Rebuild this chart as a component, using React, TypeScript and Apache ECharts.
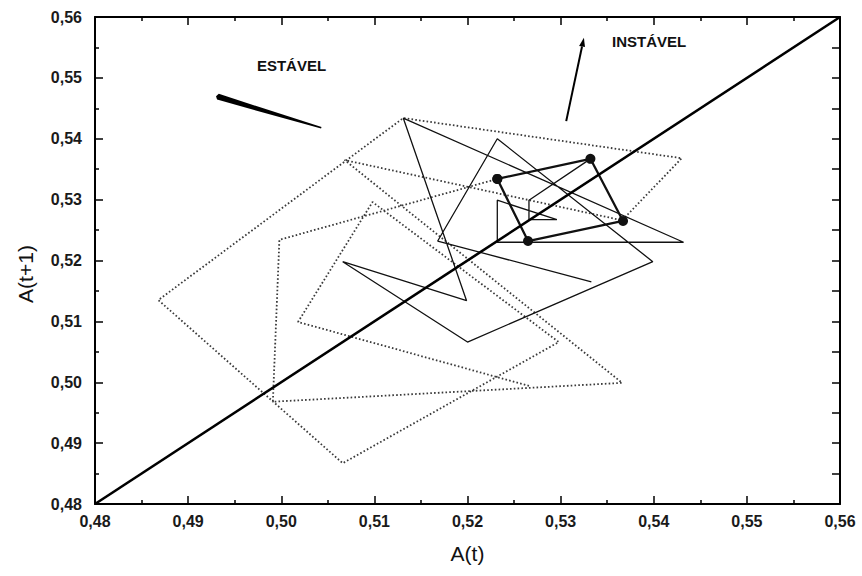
import { useEffect, useRef } from 'react';
import * as echarts from 'echarts';

// Tick labels (comma decimal)
const tickValues = [0.48, 0.49, 0.5, 0.51, 0.52, 0.53, 0.54, 0.55, 0.56];
const tickLabels = ['0,48', '0,49', '0,50', '0,51', '0,52', '0,53', '0,54', '0,55', '0,56'];

// Identity line A(t+1) = A(t)
const diagonalEnds = [0.48, 0.56];

// Dotted trajectory (A(t), A(t+1))
const dottedX = [0.5266, 0.5018, 0.5098, 0.5298, 0.5066, 0.4868, 0.5131, 0.543, 0.5366, 0.5068, 0.5349, 0.5366, 0.4991, 0.4998, 0.5232];
const dottedY = [0.4994, 0.5099, 0.5296, 0.5066, 0.4867, 0.5135, 0.5434, 0.5368, 0.5266, 0.5365, 0.502, 0.4999, 0.4968, 0.5234, 0.5334];

// Thin solid trajectory
const solidX = [0.5333, 0.5168, 0.5232, 0.5399, 0.52, 0.5066, 0.5199, 0.5131, 0.5432, 0.5232, 0.5232, 0.5296, 0.5266, 0.5266, 0.5332];
const solidY = [0.5165, 0.5232, 0.54, 0.5198, 0.5066, 0.5198, 0.5134, 0.5434, 0.523, 0.523, 0.5299, 0.5267, 0.5267, 0.5299, 0.5367];

// Period-4 cycle (bold, with dots)
const cycleX = [0.5232, 0.5332, 0.5367, 0.5265];
const cycleY = [0.5334, 0.5367, 0.5265, 0.5232];

// Annotation texts
const stableLabel = 'ESTÁVEL';
const unstableLabel = 'INSTÁVEL';
const xTitle = 'A(t)';
const yTitle = 'A(t+1)';

const pairs = (xs: number[], ys: number[]) => xs.map((x, i) => [x, ys[i]]);

export default function App() {
  const ref = useRef<HTMLDivElement>(null);

  useEffect(() => {
    const el = ref.current;
    if (!el) return;
    const chart = echarts.init(el, null, { renderer: 'svg' });
    const font = '"Liberation Sans", Arial, sans-serif';
    const fmt = (v: number) => {
      const i = tickValues.findIndex((t) => Math.abs(t - v) < 1e-6);
      return i >= 0 ? tickLabels[i] : '';
    };

    const axisCommon = {
      type: 'value',
      min: 0.48,
      max: 0.56,
      interval: 0.01,
      splitLine: { show: false },
      axisLine: { show: true, onZero: false, lineStyle: { color: '#000', width: 2 } },
      axisTick: { show: true, inside: true, length: 8, lineStyle: { color: '#000', width: 1.5 } },
      minorTick: { show: true, splitNumber: 2, length: 4, lineStyle: { color: '#000', width: 1.5 } },
    };

    const labelStyle = { fontFamily: font, fontSize: 16, fontWeight: 'bold', color: '#1a1a1a' };

    const cycleData = pairs(cycleX, cycleY);
    cycleData.push(cycleData[0]);

    chart.setOption({
      animation: false,
      backgroundColor: '#fff',
      grid: { left: 95, right: 22, top: 17, bottom: 72, containLabel: false },
      xAxis: [
        {
          ...axisCommon,
          position: 'bottom',
          name: xTitle,
          nameLocation: 'middle',
          nameGap: 39,
          nameTextStyle: { fontFamily: font, fontSize: 21, color: '#111' },
          axisLabel: { show: true, margin: 9, formatter: fmt, ...labelStyle },
        },
        { ...axisCommon, position: 'top', axisLabel: { show: false } },
      ],
      yAxis: [
        {
          ...axisCommon,
          position: 'left',
          axisLabel: { show: true, margin: 13, formatter: fmt, ...labelStyle },
        },
        {
          ...axisCommon,
          position: 'right',
          axisLabel: { show: false },
          minorTick: { show: true, splitNumber: 2, length: 8, lineStyle: { color: '#000', width: 1.5 } },
        },
      ],
      series: [
        {
          type: 'line',
          data: pairs(dottedX, dottedY),
          symbol: 'none',
          z: 2,
          lineStyle: { color: '#3a3a3a', width: 1.8, type: [1.6, 2.2] },
        },
        {
          type: 'line',
          data: pairs(solidX, solidY),
          symbol: 'none',
          z: 3,
          lineStyle: { color: '#111', width: 1.3 },
        },
        {
          type: 'line',
          data: cycleData,
          symbol: 'circle',
          symbolSize: 10,
          z: 4,
          itemStyle: { color: '#111' },
          lineStyle: { color: '#111', width: 2.3 },
        },
        {
          type: 'line',
          data: [
            [diagonalEnds[0], diagonalEnds[0]],
            [diagonalEnds[1], diagonalEnds[1]],
          ],
          symbol: 'none',
          z: 5,
          lineStyle: { color: '#000', width: 2.6 },
        },
      ],
    });

    const toPx = (p: number[]) => chart.convertToPixel({ xAxisIndex: 0, yAxisIndex: 0 }, p) as number[];

    // tapered stroke near "ESTÁVEL"
    const s0 = toPx([0.4932, 0.5469]);
    const s1 = toPx([0.5043, 0.5418]);
    const dx = s1[0] - s0[0];
    const dy = s1[1] - s0[1];
    const len = Math.hypot(dx, dy);
    const nx = -dy / len;
    const ny = dx / len;
    const w0 = 3;
    const w1 = 0.8;
    const taper = [
      [s0[0] - (dx / len) * 2, s0[1] - (dy / len) * 2],
      [s0[0] + nx * w0, s0[1] + ny * w0],
      [s1[0] + nx * w1, s1[1] + ny * w1],
      [s1[0] - nx * w1, s1[1] - ny * w1],
      [s0[0] - nx * w0, s0[1] - ny * w0],
    ];

    // arrow near "INSTÁVEL"
    const a0 = toPx([0.5306, 0.5429]);
    const a1 = toPx([0.5325, 0.5566]);
    const adx = a1[0] - a0[0];
    const ady = a1[1] - a0[1];
    const alen = Math.hypot(adx, ady);
    const ux = adx / alen;
    const uy = ady / alen;
    const headLen = 9;
    const headW = 3;
    const base = [a1[0] - ux * headLen, a1[1] - uy * headLen];
    const head = [
      [a1[0], a1[1]],
      [base[0] - uy * headW, base[1] + ux * headW],
      [base[0] + uy * headW, base[1] - ux * headW],
    ];

    const tStable = toPx([0.5011, 0.552]);
    const tUnstable = toPx([0.5395, 0.5559]);

    chart.setOption({
      graphic: [
        { type: 'polygon', shape: { points: taper }, style: { fill: '#000' }, z: 10 },
        {
          type: 'line',
          shape: { x1: a0[0], y1: a0[1], x2: base[0], y2: base[1] },
          style: { stroke: '#000', lineWidth: 2 },
          z: 10,
        },
        { type: 'polygon', shape: { points: head }, style: { fill: '#000' }, z: 10 },
        {
          type: 'text',
          x: tStable[0],
          y: tStable[1],
          style: { text: stableLabel, fill: '#111', font: `bold 15px ${font}`, align: 'center', verticalAlign: 'middle' },
          z: 10,
        },
        {
          type: 'text',
          x: tUnstable[0],
          y: tUnstable[1],
          style: { text: unstableLabel, fill: '#111', font: `bold 15px ${font}`, align: 'center', verticalAlign: 'middle' },
          z: 10,
        },
        {
          type: 'text',
          x: 25,
          y: 274,
          rotation: Math.PI / 2,
          style: { text: yTitle, fill: '#111', font: `21px ${font}`, align: 'center', verticalAlign: 'middle' },
          z: 10,
        },
      ],
    });

    return () => chart.dispose();
  }, []);

  return (
    <div
      ref={ref}
      style={{ position: 'absolute', left: 0, top: 0, width: 862, height: 576, background: '#fff' }}
    />
  );
}
